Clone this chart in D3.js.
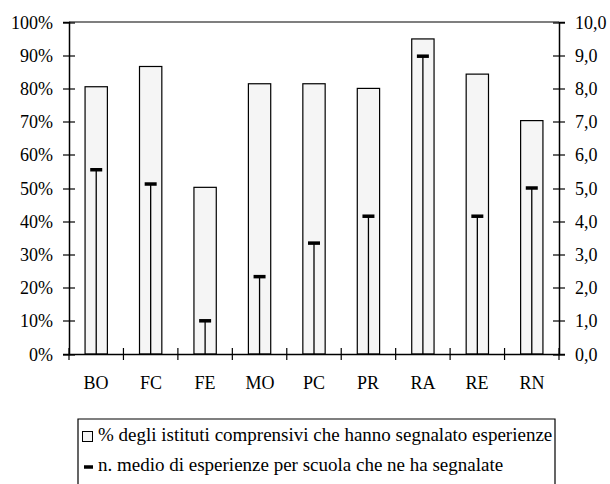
<!DOCTYPE html>
<html>
<head>
<meta charset="utf-8">
<script src="https://cdn.jsdelivr.net/npm/d3@7"></script>
<style>
  body { margin: 0; background: #fff; }
</style>
</head>
<body>
<svg id="chart" width="610" height="484"></svg>
<script>
// province
var province = ["BO", "FC", "FE", "MO", "PC", "PR", "RA", "RE", "RN"];
// % istituti comprensivi che hanno segnalato esperienze
var percIstituti = [80.5, 86.6, 50.2, 81.4, 81.4, 80.0, 94.9, 84.3, 70.3];
// n. medio di esperienze per scuola
var nMedio = [5.55, 5.12, 1.0, 2.33, 3.34, 4.15, 8.97, 4.15, 5.0];

var leftTicks = [0, 10, 20, 30, 40, 50, 60, 70, 80, 90, 100];
var rightTicks = [0, 1, 2, 3, 4, 5, 6, 7, 8, 9, 10];

var legendLabels = [
  "% degli istituti comprensivi che hanno segnalato esperienze",
  "n. medio di esperienze per scuola che ne ha segnalate"
];

var serif = '"Liberation Serif", "Times New Roman", serif';
var x0 = 69, x1 = 559, yTop = 22, yBot = 354;

var svg = d3.select("#chart");

var x = d3.scaleBand().domain(province).range([x0, x1]);
var yL = d3.scaleLinear().domain([0, 100]).range([yBot, yTop]);
var yR = d3.scaleLinear().domain([0, 10]).range([yBot, yTop]);

var barW = x.bandwidth() * 0.41;

// barre
svg.append("g").selectAll("rect")
  .data(province)
  .enter().append("rect")
  .attr("x", function(d) { return x(d) + x.bandwidth() / 2 - barW / 2; })
  .attr("y", function(d, i) { return yL(percIstituti[i]); })
  .attr("width", barW)
  .attr("height", function(d, i) { return yBot - yL(percIstituti[i]); })
  .attr("fill", "#f5f5f5")
  .attr("stroke", "#000")
  .attr("stroke-width", 1.2);

// linee verticali dei marcatori
svg.append("g").selectAll("line")
  .data(province)
  .enter().append("line")
  .attr("x1", function(d) { return x(d) + x.bandwidth() / 2; })
  .attr("x2", function(d) { return x(d) + x.bandwidth() / 2; })
  .attr("y1", yBot)
  .attr("y2", function(d, i) { return yR(nMedio[i]); })
  .attr("stroke", "#000")
  .attr("stroke-width", 1.3);

// marcatori
svg.append("g").selectAll("line")
  .data(province)
  .enter().append("line")
  .attr("x1", function(d) { return x(d) + x.bandwidth() / 2 - 6; })
  .attr("x2", function(d) { return x(d) + x.bandwidth() / 2 + 6; })
  .attr("y1", function(d, i) { return yR(nMedio[i]); })
  .attr("y2", function(d, i) { return yR(nMedio[i]); })
  .attr("stroke", "#000")
  .attr("stroke-width", 3.5);

// cornice superiore
svg.append("line")
  .attr("x1", x0).attr("x2", x1).attr("y1", yTop).attr("y2", yTop)
  .attr("stroke", "#000").attr("stroke-width", 1.2);

// le posizioni non intere rendono il testo con un aspetto diverso: arrotondo
function roundTicks(ax, horiz) {
  ax.selectAll(".tick").attr("transform", function(d) {
    var m = /translate\(([^,]+),([^)]+)\)/.exec(this.getAttribute("transform"));
    return "translate(" + Math.round(+m[1]) + "," + Math.round(+m[2]) + ")";
  });
}

// asse sinistro
var axL = svg.append("g").attr("transform", "translate(" + x0 + ",0)")
  .call(d3.axisLeft(yL).tickValues(leftTicks).tickSize(6).tickFormat(function(d) { return d + "%"; }));
roundTicks(axL);
axL.selectAll(".tick line").clone().attr("x2", 6);
axL.selectAll("text").attr("x", -16).attr("dy", null).attr("y", 6).style("font-size", "18px");

// asse destro
var axR = svg.append("g").attr("transform", "translate(" + x1 + ",0)")
  .call(d3.axisRight(yR).tickValues(rightTicks).tickSize(6).tickFormat(function(d) { return d3.format(".1f")(d).replace(".", ","); }));
roundTicks(axR);
axR.selectAll(".tick line").clone().attr("x2", -6);
axR.selectAll("text").attr("x", 16).attr("dy", null).attr("y", 6).style("font-size", "18px");

// asse x
var axX = svg.append("g").attr("transform", "translate(0," + yBot + ")")
  .call(d3.axisBottom(x).tickSize(0));
roundTicks(axX);
axX.selectAll("text").attr("dy", null).attr("y", 35).style("font-size", "18px");
var bounds = province.map(function(d) { return x(d); }).concat([x1]);
axX.selectAll(".bound").data(bounds).enter().append("line")
  .attr("x1", function(d) { return d; }).attr("x2", function(d) { return d; })
  .attr("y1", -6).attr("y2", 6)
  .attr("stroke", "#000").attr("stroke-width", 1.2);

svg.selectAll(".domain").attr("stroke-width", 1.5);
svg.selectAll(".tick line").attr("stroke-width", 1.2);

// legenda
var leg = svg.append("g");
leg.append("path")
  .attr("d", "M78,490 V419 H555 V490")
  .attr("fill", "none").attr("stroke", "#000").attr("stroke-width", 1.2);
leg.append("rect")
  .attr("x", 82.5).attr("y", 431.5).attr("width", 10).attr("height", 10)
  .attr("fill", "#f5f5f5").attr("stroke", "#000");
leg.append("line")
  .attr("x1", 84).attr("x2", 93).attr("y1", 467).attr("y2", 467)
  .attr("stroke", "#000").attr("stroke-width", 3.5);
var legText = leg.selectAll("text").data(legendLabels).enter().append("text")
  .attr("x", 98)
  .attr("y", function(d, i) { return 441 + i * 30; })
  .style("font-size", "17px")
  .style("font-family", serif)
  .text(function(d) { return d; });
// dimensione del carattere adattata alla larghezza della legenda originale
var w0 = legText.node().getComputedTextLength();
var fs = Math.round(2 * 17 * 455 / w0) / 2;
legText.style("font-size", fs + "px");

// tutti i testi in carattere serif
svg.selectAll("g").attr("font-family", null);
svg.selectAll("text").style("font-family", serif).style("fill", "#000");
</script>
</body>
</html>
